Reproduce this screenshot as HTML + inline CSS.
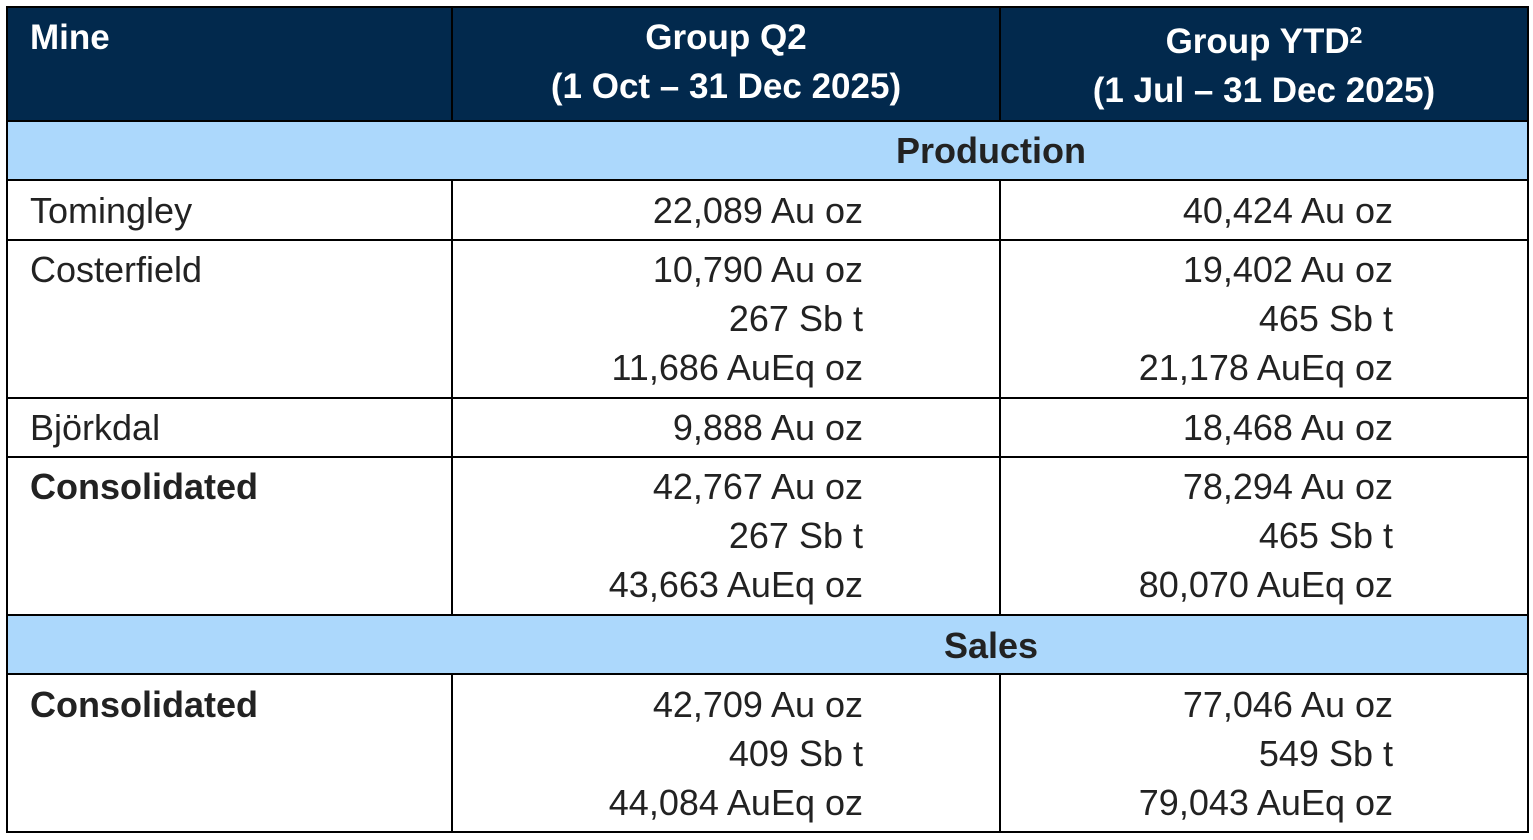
<!DOCTYPE html>
<html><head><meta charset="utf-8"><style>
*{margin:0;padding:0;box-sizing:border-box}
body{width:1533px;height:840px;background:#fff;position:relative;font-family:"Liberation Sans",Arial,sans-serif;overflow:hidden}
.b{position:absolute;background:#000}
.f{position:absolute}
.t{position:absolute;font-size:36px;line-height:40px;color:#222;white-space:nowrap}
.r{text-align:right}
.w{color:#fff;font-weight:bold;font-size:35px}
.bo{font-weight:bold}
sup{font-size:23px;vertical-align:top;position:relative;top:-7px}
</style></head><body>
<div class="f" style="left:7px;top:7px;width:1521px;height:114px;background:#02294d"></div>
<div class="f" style="left:7px;top:121px;width:1521px;height:59px;background:#acd8fc"></div>
<div class="f" style="left:7px;top:615px;width:1521px;height:59px;background:#acd8fc"></div>
<div class="b" style="left:6px;top:6px;width:1523px;height:2px"></div>
<div class="b" style="left:6px;top:831px;width:1523px;height:2px"></div>
<div class="b" style="left:6px;top:6px;width:2px;height:827px"></div>
<div class="b" style="left:1527px;top:6px;width:2px;height:827px"></div>
<div class="b" style="left:6px;top:120px;width:1523px;height:2px"></div>
<div class="b" style="left:6px;top:179px;width:1523px;height:2px"></div>
<div class="b" style="left:6px;top:239px;width:1523px;height:2px"></div>
<div class="b" style="left:6px;top:397px;width:1523px;height:2px"></div>
<div class="b" style="left:6px;top:456px;width:1523px;height:2px"></div>
<div class="b" style="left:6px;top:614px;width:1523px;height:2px"></div>
<div class="b" style="left:6px;top:673px;width:1523px;height:2px"></div>
<div class="b" style="left:451px;top:6px;width:2px;height:115px"></div>
<div class="b" style="left:999px;top:6px;width:2px;height:115px"></div>
<div class="b" style="left:451px;top:180px;width:2px;height:435px"></div>
<div class="b" style="left:999px;top:180px;width:2px;height:435px"></div>
<div class="b" style="left:451px;top:674px;width:2px;height:158px"></div>
<div class="b" style="left:999px;top:674px;width:2px;height:158px"></div>
<div class="t w" style="left:30px;top:18px">Mine</div>
<div class="t w" style="left:453px;width:546px;text-align:center;top:18px">Group Q2</div>
<div class="t w" style="left:453px;width:546px;text-align:center;top:67px">(1 Oct – 31 Dec 2025)</div>
<div class="t w" style="left:1001px;width:526px;text-align:center;top:22px">Group YTD<sup>2</sup></div>
<div class="t w" style="left:1001px;width:526px;text-align:center;top:71px">(1 Jul – 31 Dec 2025)</div>
<div class="t bo" style="left:7px;text-align:center;top:131px;width:1968px">Production</div>
<div class="t bo" style="left:7px;text-align:center;top:626px;width:1968px">Sales</div>
<div class="t" style="left:30px;top:191px">Tomingley</div>
<div class="t" style="left:30px;top:250px">Costerfield</div>
<div class="t" style="left:30px;top:408px">Björkdal</div>
<div class="t bo" style="left:30px;top:467px">Consolidated</div>
<div class="t bo" style="left:30px;top:685px">Consolidated</div>
<div class="t r" style="right:670px;top:191px">22,089 Au oz</div>
<div class="t r" style="right:670px;top:250px">10,790 Au oz</div>
<div class="t r" style="right:670px;top:299px">267 Sb t</div>
<div class="t r" style="right:670px;top:348px">11,686 AuEq oz</div>
<div class="t r" style="right:670px;top:408px">9,888 Au oz</div>
<div class="t r" style="right:670px;top:467px">42,767 Au oz</div>
<div class="t r" style="right:670px;top:516px">267 Sb t</div>
<div class="t r" style="right:670px;top:565px">43,663 AuEq oz</div>
<div class="t r" style="right:670px;top:685px">42,709 Au oz</div>
<div class="t r" style="right:670px;top:734px">409 Sb t</div>
<div class="t r" style="right:670px;top:783px">44,084 AuEq oz</div>
<div class="t r" style="right:140px;top:191px">40,424 Au oz</div>
<div class="t r" style="right:140px;top:250px">19,402 Au oz</div>
<div class="t r" style="right:140px;top:299px">465 Sb t</div>
<div class="t r" style="right:140px;top:348px">21,178 AuEq oz</div>
<div class="t r" style="right:140px;top:408px">18,468 Au oz</div>
<div class="t r" style="right:140px;top:467px">78,294 Au oz</div>
<div class="t r" style="right:140px;top:516px">465 Sb t</div>
<div class="t r" style="right:140px;top:565px">80,070 AuEq oz</div>
<div class="t r" style="right:140px;top:685px">77,046 Au oz</div>
<div class="t r" style="right:140px;top:734px">549 Sb t</div>
<div class="t r" style="right:140px;top:783px">79,043 AuEq oz</div>
</body></html>
